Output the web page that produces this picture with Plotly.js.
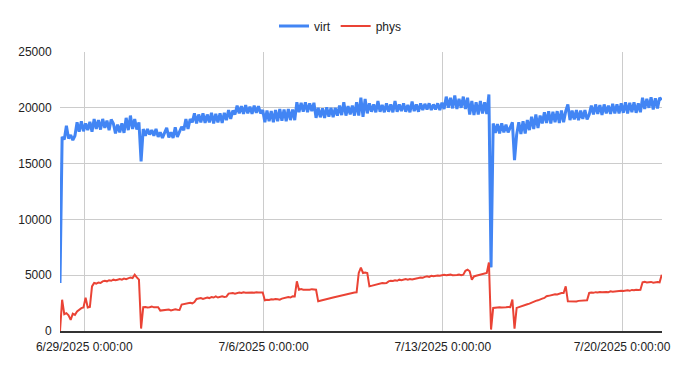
<!DOCTYPE html>
<html>
<head>
<meta charset="utf-8">
<script src="https://cdn.plot.ly/plotly-3.0.1.min.js"></script>
<style>html,body{margin:0;padding:0;background:#fff;}#chart{width:681px;height:371px;}</style>
</head>
<body>
<div id="chart"></div>
<script>
// Sampling: one reading every 2 hours starting at the first sample time
var startTime = '2025-06-28T01:14:00Z';
var stepHours = 2;

var seriesNames = ['virt', 'phys'];

var virt = [
4300,17400,17150,18400,17250,17550,17100,17500,18700,17850,
18800,17900,18600,18000,18750,17850,19000,18100,18900,18050,
19000,18200,18850,18000,18950,18600,17700,18500,17800,18600,
17750,19100,18000,19300,18100,19000,18050,18700,15200,18100,
17500,18100,17600,18000,17500,18100,17400,17800,17300,17750,
18200,17350,17800,17300,18250,17400,17800,18300,18000,19000,
18100,19000,18700,19500,18600,19400,18700,19500,18650,19400,
18700,19550,18600,19450,18700,19500,18650,19550,18900,19800,
19000,19750,19400,20200,19500,20150,19450,20250,19500,20100,
19450,20200,19550,20150,19500,19800,18700,19750,18800,19700,
18700,19800,18800,19900,18850,19850,18800,19900,18900,19850,
18900,20500,19600,20450,19650,20500,19600,20400,19700,20450,
19100,20000,19150,19950,19100,20050,19200,20000,19150,20000,
19300,20200,19350,20500,19300,20150,19400,20200,19300,20500,
19300,20900,19200,20800,19500,20400,19650,20300,19600,20600,
19650,20250,19600,20400,19650,20300,19600,20600,19650,20300,
19700,20400,19650,20250,19600,20550,19700,20300,19650,20400,
19800,20350,19850,20400,19800,20300,19850,20400,19800,20450,
19900,21000,20000,20900,19950,21100,19900,20800,20000,21000,
19900,20900,19400,20600,19350,20500,19400,20600,19500,20500,
19450,21200,5700,18600,17750,18550,17700,18600,17800,18500,
17800,18300,18700,15300,17600,18700,17650,18800,17700,18900,
18000,19200,18100,19400,18200,19300,18600,19600,18650,19700,
18600,19650,18700,19700,18650,19750,18700,19700,20300,18900,
19750,18950,19800,18900,19750,19000,19800,18950,19400,20200,
19400,20300,19450,20250,19350,20300,19500,20200,19450,20350,
19500,20300,19500,20400,19550,20500,19500,20450,19600,20500,
19550,20400,19600,20900,19900,20800,20000,20950,19850,20850,
19950,20900,20700
];

var phys = [
0,2800,1500,1600,1400,1000,1550,1450,1750,1900,
2050,2100,2990,2100,2150,4000,4300,4250,4350,4300,
4450,4500,4450,4550,4500,4600,4550,4600,4650,4600,
4700,4650,4750,4800,4750,5050,4800,4600,220,2130,
2150,2100,2130,2200,2120,2150,2130,1830,1850,1900,
1880,1920,1850,1900,1950,1900,1880,2370,2400,2450,
2500,2520,2480,2600,2870,2900,2950,2870,2950,3000,
2950,3050,3000,3100,3000,3050,3100,3050,3080,3350,
3380,3400,3350,3420,3450,3400,3470,3430,3450,3480,
3450,3420,3470,3440,3460,3450,2750,2800,2780,2850,
2820,2870,2850,2810,2900,2950,2980,3050,3000,3110,
3100,4450,3700,3750,3700,3680,3720,3700,3750,3700,
3700,2660,2700,2750,2800,2850,2900,2950,3000,3050,
3100,3150,3200,3250,3300,3350,3380,3400,3450,3470,
5200,5670,5200,5250,5200,4000,4050,4100,4150,4200,
4250,4300,4280,4300,4450,4500,4480,4550,4500,4600,
4550,4600,4650,4600,4650,4620,4660,4650,4750,4800,
4780,4850,4900,4850,4950,4900,4950,4980,4950,5000,
5040,5000,5020,5050,5000,5040,5020,5050,5000,5050,
5400,5500,5350,4600,4890,4950,5000,5050,5100,5150,
5200,6140,130,2070,2100,2080,2120,2100,2150,2130,
2160,2140,2810,200,2070,2150,2200,2300,2350,2400,
2450,2550,2600,2700,2750,2850,2900,2960,3110,3150,
3200,3250,3300,3280,3350,3400,3410,4000,2660,2650,
2700,2680,2650,2700,2720,2680,2700,2750,3410,3450,
3420,3480,3450,3500,3470,3520,3500,3480,3550,3520,
3550,3530,3560,3600,3580,3620,3650,3600,3680,3650,
3700,3680,3700,4360,4400,4350,4380,4400,4330,4380,
4400,4360,5040
];

var tickDates = ['2025-06-29', '2025-07-06', '2025-07-13', '2025-07-20'];
var tickLabels = ['6/29/2025 0:00:00', '7/6/2025 0:00:00', '7/13/2025 0:00:00', '7/20/2025 0:00:00'];
var yTicks = [0, 5000, 10000, 15000, 20000, 25000];

function pad(n){ return (n < 10 ? '0' : '') + n; }
function sampleTimes(count){
  var t0 = Date.parse(startTime);
  var out = [];
  for (var i = 0; i < count; i++) {
    var d = new Date(t0 + i * stepHours * 3600000);
    out.push(d.getUTCFullYear() + '-' + pad(d.getUTCMonth() + 1) + '-' + pad(d.getUTCDate()) + ' ' +
             pad(d.getUTCHours()) + ':' + pad(d.getUTCMinutes()));
  }
  return out;
}

var times = sampleTimes(virt.length);
var font = {family: '"Liberation Sans", Arial, sans-serif', size: 12, color: '#222222'};

var traces = [
  {x: times, y: virt, name: seriesNames[0], type: 'scatter', mode: 'lines',
   line: {color: '#4285F4', width: 3, join: 'miter'}},
  {x: times, y: phys, name: seriesNames[1], type: 'scatter', mode: 'lines',
   line: {color: '#EA4335', width: 2}}
];

var layout = {
  width: 681, height: 371,
  margin: {l: 60, r: 19, t: 52, b: 39.5},
  paper_bgcolor: '#ffffff', plot_bgcolor: '#ffffff',
  font: font,
  showlegend: true,
  legend: {orientation: 'h', xref: 'container', x: 0.5, xanchor: 'center',
           yref: 'container', y: 0.93, yanchor: 'middle',
           font: font, itemwidth: 30, tracegroupgap: 0},
  xaxis: {
    type: 'date',
    range: ['2025-06-28 01:14', '2025-07-21 13:28'],
    tickmode: 'array', tickvals: tickDates, ticktext: tickLabels,
    showgrid: true, gridcolor: '#cccccc', gridwidth: 1,
    showline: true, linecolor: '#333333', linewidth: 1.5,
    zeroline: false,
    ticks: 'outside', ticklen: 4, tickcolor: 'rgba(0,0,0,0)',
    tickfont: font, fixedrange: true
  },
  yaxis: {
    range: [0, 25000],
    tickmode: 'array', tickvals: yTicks,
    tickformat: 'd',
    showgrid: true, gridcolor: '#cccccc', gridwidth: 1,
    showline: false, zeroline: false,
    ticks: 'outside', ticklen: 5, tickcolor: 'rgba(0,0,0,0)',
    tickfont: font, fixedrange: true
  }
};

Plotly.newPlot('chart', traces, layout, {displayModeBar: false, staticPlot: true});
</script>
</body>
</html>
